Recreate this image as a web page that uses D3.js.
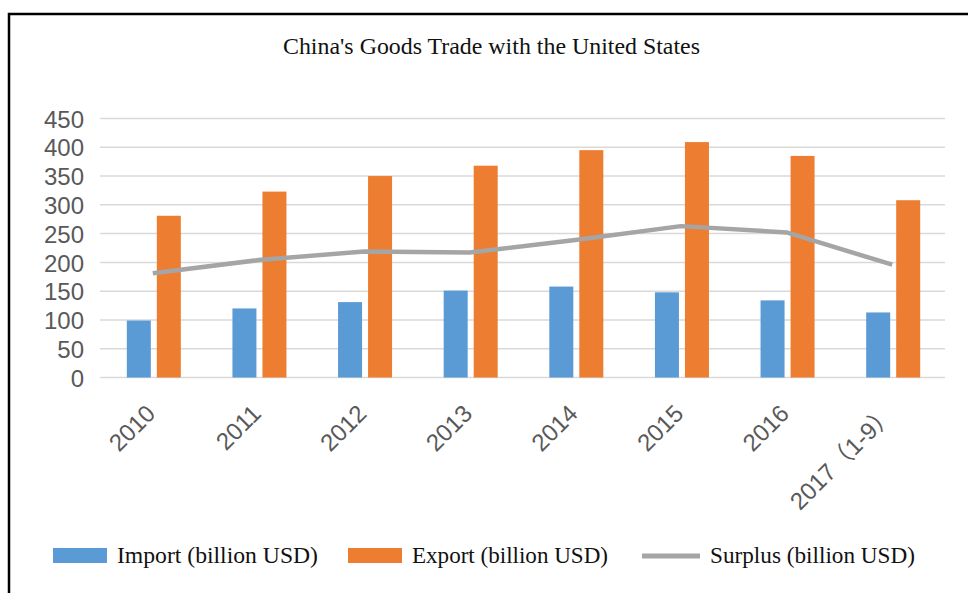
<!DOCTYPE html>
<html>
<head>
<meta charset="utf-8">
<script src="https://cdn.jsdelivr.net/npm/d3@7"></script>
<style>
  html, body { margin: 0; padding: 0; background: #fff; }
  svg { display: block; }
</style>
</head>
<body>
<svg id="chart" width="968" height="593"></svg>
<script>
// China's goods trade with the United States, billion USD
const categories = ["2010", "2011", "2012", "2013", "2014", "2015", "2016", "2017（1-9）"];
const importValues = [99, 120, 131, 151, 158, 148, 134, 113];
const exportValues = [281, 323, 350, 368, 395, 409, 385, 308];
const surplusValues = [181, 204, 219, 217, 239, 263, 252, 196];
const yTicks = [0, 50, 100, 150, 200, 250, 300, 350, 400, 450];

const seriesNames = {
  import: "Import (billion USD)",
  export: "Export (billion USD)",
  surplus: "Surplus (billion USD)"
};
const colors = { import: "#5b9bd5", export: "#ed7d31", surplus: "#a5a5a5" };

const svg = d3.select("#chart");

// outer frame
svg.append("rect")
  .attr("x", 9).attr("y", 14)
  .attr("width", 1000).attr("height", 700)
  .attr("fill", "#fff")
  .attr("stroke", "#000").attr("stroke-width", 2.5);

// title
svg.append("text")
  .attr("x", 283).attr("y", 54)
  .attr("font-family", "'Liberation Serif', 'DejaVu Serif', serif")
  .attr("font-size", 23)
  .attr("fill", "#111")
  .attr("textLength", 417)
  .attr("lengthAdjust", "spacingAndGlyphs")
  .text("China's Goods Trade with the United States");

const x = d3.scaleBand().domain(categories).range([100, 945]).padding(0);
const xs = d3.scaleBand().domain(["import", "export"])
  .range([0, x.bandwidth()]).paddingInner(0.2).paddingOuter(0.86);
const y = d3.scaleLinear().domain([0, 450]).range([377.5, 118.5]);

// gridlines
svg.append("g")
  .selectAll("line")
  .data(yTicks)
  .join("line")
  .attr("x1", 100).attr("x2", 945)
  .attr("y1", d => y(d)).attr("y2", d => y(d))
  .attr("stroke", "#d9d9d9").attr("stroke-width", 1.5);

// y axis labels
const yAxis = d3.axisLeft(y).tickValues(yTicks).tickSize(0).tickPadding(0);
const yg = svg.append("g").attr("transform", "translate(84,0)").call(yAxis);
yg.select(".domain").remove();
yg.selectAll("text")
  .attr("font-family", "'Liberation Sans', Arial, sans-serif")
  .attr("font-size", 24)
  .attr("fill", "#595959")
  .attr("dy", "0.36em");

// bars
const rows = categories.map((c, i) => ({
  cat: c, import: importValues[i], export: exportValues[i], surplus: surplusValues[i]
}));

const groups = svg.append("g").selectAll("g")
  .data(rows)
  .join("g")
  .attr("transform", d => `translate(${x(d.cat) + 1},0)`);

groups.selectAll("rect")
  .data(d => ["import", "export"].map(k => ({ key: k, value: d[k] })))
  .join("rect")
  .attr("x", d => xs(d.key))
  .attr("width", xs.bandwidth())
  .attr("y", d => y(d.value))
  .attr("height", d => y(0) - y(d.value))
  .attr("fill", d => colors[d.key]);

// surplus line
const line = d3.line()
  .x(d => x(d.cat) + x.bandwidth() / 2)
  .y(d => y(d.surplus));

svg.append("path")
  .datum(rows)
  .attr("d", line)
  .attr("fill", "none")
  .attr("stroke", colors.surplus)
  .attr("stroke-width", 4.5)
  .attr("stroke-linejoin", "round");

// category labels
const xAxis = d3.axisBottom(x).tickSize(0).tickPadding(0);
const xg = svg.append("g").call(xAxis);
xg.select(".domain").remove();
xg.selectAll(".tick").attr("transform", d => `translate(${x(d) + x.bandwidth() / 2 + 4},415)`);
xg.selectAll("text")
  .attr("font-family", "'Liberation Sans', Arial, 'Noto Sans CJK SC', sans-serif")
  .attr("font-size", 24)
  .attr("fill", "#595959")
  .attr("text-anchor", "end")
  .attr("y", 0).attr("dy", 0)
  .attr("transform", "rotate(-45)");

// legend
const legendItems = [
  { key: "import", sx: 53, tx: 117, tw: 201 },
  { key: "export", sx: 348, tx: 412, tw: 196 },
  { key: "surplus", sx: 642, tx: 710, tw: 205 }
];
const lg = svg.append("g");
legendItems.forEach(it => {
  if (it.key === "surplus") {
    lg.append("line")
      .attr("x1", it.sx).attr("x2", it.sx + 58)
      .attr("y1", 556).attr("y2", 556)
      .attr("stroke", colors.surplus).attr("stroke-width", 5);
  } else {
    lg.append("rect")
      .attr("x", it.sx).attr("y", 548)
      .attr("width", 54).attr("height", 15)
      .attr("fill", colors[it.key]);
  }
  lg.append("text")
    .attr("x", it.tx).attr("y", 563)
    .attr("font-family", "'Liberation Serif', 'DejaVu Serif', serif")
    .attr("font-size", 24)
    .attr("fill", "#111")
    .attr("textLength", it.tw)
    .attr("lengthAdjust", "spacingAndGlyphs")
    .text(seriesNames[it.key]);
});
</script>
</body>
</html>
